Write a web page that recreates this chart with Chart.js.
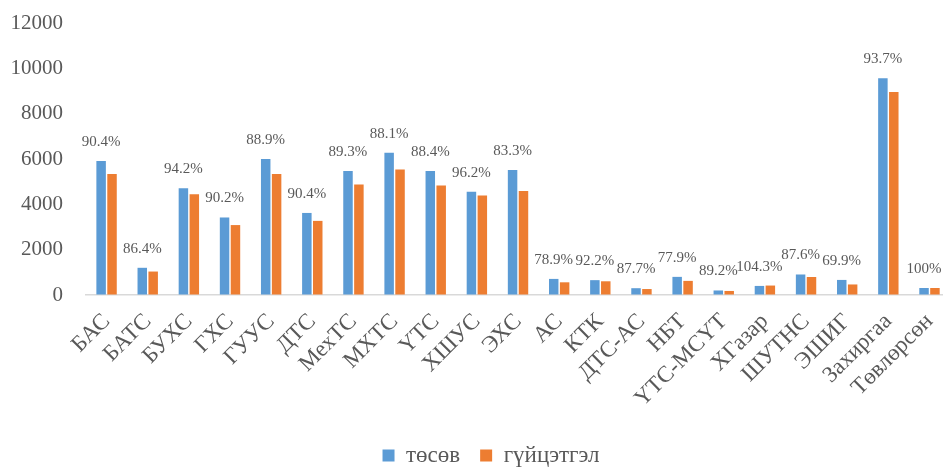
<!DOCTYPE html>
<html>
<head>
<meta charset="utf-8">
<script src="https://cdn.jsdelivr.net/npm/chart.js@4/dist/chart.umd.min.js"></script>
<style>
  html, body { margin: 0; padding: 0; background: #fff; overflow: hidden; }
  .chart-wrapper { width: 954px; height: 467px; }
</style>
</head>
<body>
<div class="chart-wrapper"><canvas id="budgetChart"></canvas></div>
<script>
// Units
const units = ['БАС', 'БАТС', 'БУХС', 'ГХС', 'ГУУС', 'ДТС', 'МехТС', 'МХТС', 'ҮТС', 'ХШУС', 'ЭХС',
               'АС', 'КТК', 'ДТС-АС', 'НБТ', 'ҮТС-МСҮТ', 'ХГазар', 'ШУТНС', 'ЭШИГ', 'Захиргаа', 'Төвлөрсөн'];

// төсөв (plan)
const plan = [5910, 1200, 4710, 3420, 6000, 3620, 5470, 6280, 5470, 4560, 5510,
              710, 655, 300, 800, 200, 400, 905, 665, 9560, 310];

// гүйцэтгэл (actual)
const actual = [5340, 1035, 4440, 3085, 5335, 3270, 4880, 5535, 4835, 4390, 4590,
                560, 605, 263, 623, 178, 417, 793, 465, 8960, 310];

// execution rate shown above each group
const rates = ['90.4%', '86.4%', '94.2%', '90.2%', '88.9%', '90.4%', '89.3%', '88.1%', '88.4%', '96.2%', '83.3%',
               '78.9%', '92.2%', '87.7%', '77.9%', '89.2%', '104.3%', '87.6%', '69.9%', '93.7%', '100%'];

const yTicks = [0, 2000, 4000, 6000, 8000, 10000, 12000];

const FONT = "'Liberation Serif', 'Times New Roman', 'DejaVu Serif', serif";
const GREY = '#595959';

// percentage text centred over the plan bar
const rateLabels = {
    id: 'rateLabels',
    afterLayout(chart) {
        // nudge the legend a little right of centre
        chart.legend.left += 14;
        chart.legend.right += 14;
    },
    afterDatasetsDraw(chart) {
        const ctx = chart.ctx;
        const meta = chart.getDatasetMeta(0);
        ctx.save();
        ctx.font = '15px ' + FONT;
        ctx.fillStyle = GREY;
        ctx.textAlign = 'center';
        ctx.textBaseline = 'middle';
        meta.data.forEach((bar, i) => {
            ctx.fillText(rates[i], bar.x, bar.y - 19);
        });
        ctx.restore();
    }
};

const canvas = document.getElementById('budgetChart');

new Chart(canvas, {
    type: 'bar',
    data: {
        labels: units,
        datasets: [
            {
                label: 'төсөв',
                data: plan,
                backgroundColor: '#5B9BD5',
                categoryPercentage: 0.53,
                barPercentage: 0.87
            },
            {
                label: 'гүйцэтгэл',
                data: actual,
                backgroundColor: '#ED7D31',
                categoryPercentage: 0.53,
                barPercentage: 0.87
            }
        ]
    },
    options: {
        responsive: true,
        maintainAspectRatio: false,
        animation: false,
        layout: { padding: { top: 23, left: 0, right: 0, bottom: -10 } },
        plugins: {
            legend: {
                position: 'bottom',
                labels: {
                    color: GREY,
                    font: { family: FONT, size: 23 },
                    boxWidth: 12,
                    boxHeight: 12,
                    padding: 20
                }
            },
            tooltip: { enabled: false }
        },
        scales: {
            x: {
                // invisible tick marks just push the labels down a little
                grid: { color: 'transparent', drawOnChartArea: false, drawTicks: true, tickLength: 8 },
                border: { color: '#D9D9D9', width: 1.5 },
                ticks: {
                    color: GREY,
                    font: { family: FONT, size: 23 },
                    minRotation: 45,
                    maxRotation: 45,
                    autoSkip: false,
                    padding: 5
                },
                afterFit: scale => { scale.height = 129; }
            },
            y: {
                min: 0,
                max: 12000,
                afterBuildTicks: scale => { scale.ticks = yTicks.map(v => ({ value: v })); },
                grid: { color: 'transparent', drawOnChartArea: false, drawTicks: true, tickLength: 23 },
                border: { display: false },
                ticks: {
                    color: GREY,
                    font: { family: FONT, size: 21 },
                    padding: 0,
                    callback: val => String(val)
                },
                afterFit: scale => { scale.width = 86; }
            }
        }
    },
    plugins: [rateLabels]
});
</script>
</body>
</html>
